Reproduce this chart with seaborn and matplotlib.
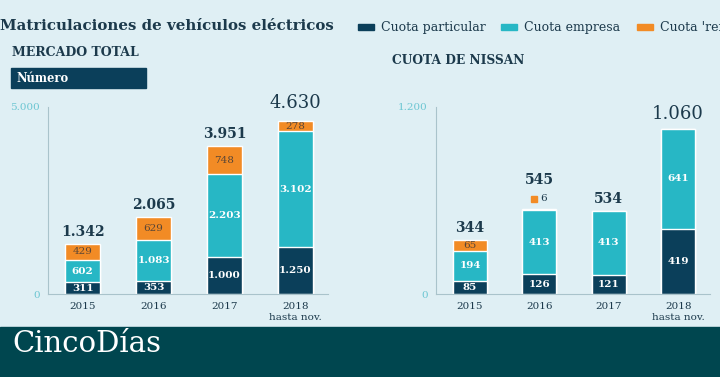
import matplotlib
matplotlib.use("Agg")
import matplotlib.pyplot as plt
from matplotlib.patches import Rectangle
import seaborn as sns
import pandas as pd

# --- data ---
years = ["2015", "2016", "2017", "2018"]
year_labels = ["2015", "2016", "2017", "2018\nhasta nov."]

total_particular = [311, 353, 1000, 1250]
total_empresa = [602, 1083, 2203, 3102]
total_renting = [429, 629, 748, 278]

nissan_particular = [85, 126, 121, 419]
nissan_empresa = [194, 413, 413, 641]
nissan_renting = [65, 6, 0, 0]

series_names = ["Cuota particular", "Cuota empresa", "Cuota 'renting'"]

# --- style ---
BG = "#dfeff4"
C_PART = "#0b3f5a"
C_EMP = "#27b7c5"
C_REN = "#f28b25"
C_TXT = "#1c3a4c"
C_TICK = "#6cc6d2"
C_AX = "#a9c3cb"
BANNER = "#00464f"

sns.set_theme(style="white")
plt.rcParams["font.family"] = ["DejaVu Serif"]

fig = plt.figure(figsize=(7.2, 3.77), dpi=100)
fig.patch.set_facecolor(BG)


def fmt(v):
    return f"{v:,}".replace(",", ".")


def stacked(ax, part, emp, ren, ymax, tick_label, big_size, big_off, small_ren):
    df = pd.DataFrame({"year": years, "p": part, "e": emp, "r": ren})
    df["pe"] = df["p"] + df["e"]
    df["tot"] = df["pe"] + df["r"]
    # barras acumuladas, de atrás hacia delante
    for col, c in [("tot", C_REN), ("pe", C_EMP), ("p", C_PART)]:
        sns.barplot(data=df, x="year", y=col, color=c, width=0.49,
                    saturation=1, ax=ax, order=years)
    ax.set_facecolor(BG)
    ax.set_ylim(0, ymax)
    ax.set_xlim(-0.49, 3.46)
    ax.set_yticks([0, ymax])
    ax.set_yticklabels(["0", tick_label], color=C_TICK, fontsize=7.5)
    ax.set_xticks(range(len(years)))
    ax.set_xticklabels(year_labels, color=C_TXT, fontsize=7.5, linespacing=1.3)
    ax.set_xlabel("")
    ax.set_ylabel("")
    for s in ["top", "right"]:
        ax.spines[s].set_visible(False)
    for s in ["left", "bottom"]:
        ax.spines[s].set_color(C_AX)
        ax.spines[s].set_linewidth(0.8)
    ax.tick_params(axis="y", length=5, color=C_AX, width=0.8, pad=1)
    ax.tick_params(axis="x", length=0, pad=6)

    last = len(df) - 1
    for i, row in df.iterrows():
        ax.text(i, row["p"] / 2, fmt(row["p"]), ha="center", va="center",
                color="white", fontsize=7.5, fontweight="bold")
        ax.text(i, row["p"] + row["e"] / 2, fmt(row["e"]), ha="center",
                va="center", color="white", fontsize=7.5, fontweight="bold")
        tiny = 0 < row["r"] < small_ren
        if row["r"] >= small_ren:
            ax.text(i, row["pe"] + row["r"] / 2, fmt(row["r"]), ha="center",
                    va="center", color="#5a4636", fontsize=7.5)
        elif tiny:
            ax.plot(i - 0.08, row["tot"] + ymax * 0.056, marker="s", ms=5,
                    color=C_REN, clip_on=False)
            ax.text(i + 0.02, row["tot"] + ymax * 0.056, fmt(row["r"]),
                    ha="left", va="center", color=C_TXT, fontsize=7.5)
        if i == last:
            ax.annotate(fmt(row["tot"]), (i, row["tot"]), xytext=(0, big_off),
                        textcoords="offset points", ha="center", va="center",
                        color=C_TXT, fontsize=big_size, annotation_clip=False)
        else:
            off = 21 if tiny else 8.6
            ax.annotate(fmt(row["tot"]), (i, row["tot"]), xytext=(0, off),
                        textcoords="offset points", ha="center", va="center",
                        color=C_TXT, fontsize=10, fontweight="bold",
                        annotation_clip=False)


ax1 = fig.add_axes([48 / 720, 83 / 377, 280 / 720, 187 / 377])
stacked(ax1, total_particular, total_empresa, total_renting, 5000, "5.000",
        13, 13, 50)
ax2 = fig.add_axes([436 / 720, 83 / 377, 274 / 720, 187 / 377])
stacked(ax2, nissan_particular, nissan_empresa, nissan_renting, 1200, "1.200",
        13, 11, 20)

# --- títulos ---
fig.text(0, 1 - 26 / 377, "Matriculaciones de vehículos eléctricos",
         fontsize=10.8, fontweight="bold", color=C_TXT, va="center", ha="left")
fig.text(12 / 720, 1 - 53 / 377, "MERCADO TOTAL", fontsize=9,
         fontweight="bold", color=C_TXT, va="center")
fig.text(392 / 720, 1 - 60 / 377, "CUOTA DE NISSAN", fontsize=8.8,
         fontweight="bold", color=C_TXT, va="center")
fig.patches.append(Rectangle((11 / 720, 1 - 88 / 377), 135 / 720, 20 / 377,
                             transform=fig.transFigure, color=C_PART))
fig.text(16 / 720, 1 - 78 / 377, "Número", fontsize=8.3, fontweight="bold",
         color="white", va="center")

# --- leyenda ---
leg_x = [358, 501, 637]
for name, c, x in zip(series_names, [C_PART, C_EMP, C_REN], leg_x):
    fig.patches.append(Rectangle((x / 720, 1 - 30 / 377), 16 / 720, 6 / 377,
                                 transform=fig.transFigure, color=c))
    fig.text((x + 23) / 720, 1 - 27 / 377, name, fontsize=9, color=C_TXT,
             va="center")

# --- banda inferior ---
fig.patches.append(Rectangle((0, 0), 1, 50 / 377, transform=fig.transFigure,
                             color=BANNER))
fig.text(12 / 720, 33 / 377, "CincoDías", fontsize=21, color="white",
         va="center")

fig.savefig("out.png", dpi=100, facecolor=BG)
